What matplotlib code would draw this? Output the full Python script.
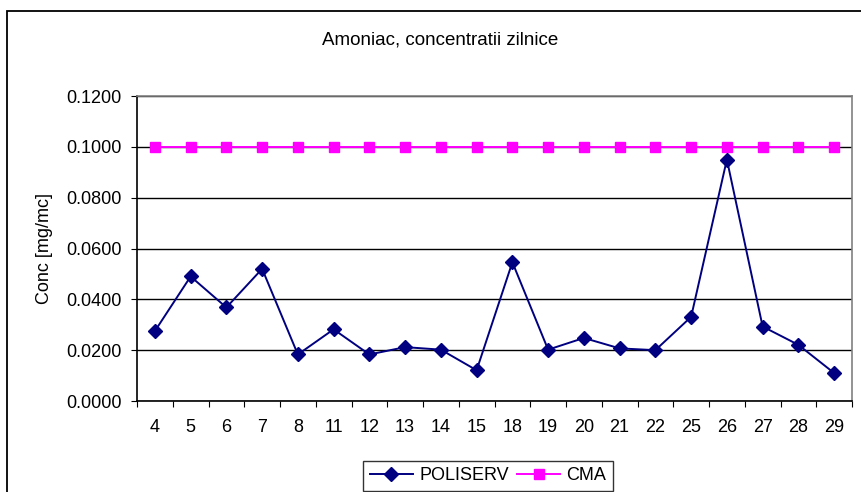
import matplotlib
matplotlib.use("Agg")
import matplotlib.pyplot as plt
from matplotlib.patches import Rectangle

plt.rcParams['font.family'] = ['Liberation Sans', 'DejaVu Sans']

# date (zilele lunii) si concentratii
zile = ['4', '5', '6', '7', '8', '11', '12', '13', '14', '15',
        '18', '19', '20', '21', '22', '25', '26', '27', '28', '29']
poliserv = [0.0275, 0.0490, 0.0368, 0.0520, 0.0183, 0.0282, 0.0183, 0.0212, 0.0202, 0.0121,
            0.0546, 0.0202, 0.0248, 0.0207, 0.0200, 0.0331, 0.0950, 0.0293, 0.0221, 0.0110]
cma = [0.1] * len(zile)
y_ticks = [0.0, 0.02, 0.04, 0.06, 0.08, 0.10, 0.12]

W, H = 861, 492
fig = plt.figure(figsize=(W / 100, H / 100), dpi=100)
ax = fig.add_axes([137 / W, 1 - 401 / H, (852 - 137) / W, (401 - 96) / H])

# chenarul exterior al graficului
fig.patches.append(Rectangle((7 / W, -0.1), 1.2, 1 - 11 / H + 0.1, transform=fig.transFigure,
                             fill=False, edgecolor='black', linewidth=1.3, clip_on=False))

x = list(range(len(zile)))
ax.plot(x, poliserv, color='#000080', marker='D', markersize=7, linewidth=1.4, label='POLISERV', zorder=4)
ax.plot(x, cma, color='#FF00FF', marker='s', markersize=7, linewidth=1.4, label='CMA', zorder=3)

ax.set_xlim(-0.5, len(zile) - 0.5)
ax.set_ylim(0, 0.12)
ax.set_yticks(y_ticks)
ax.set_yticklabels(['%.4f' % v for v in y_ticks])
ax.set_xticks([i - 0.5 for i in range(len(zile) + 1)])
ax.set_xticklabels([])
ax.set_xticks(x, minor=True)
ax.set_xticklabels(zile, minor=True)
ax.tick_params(axis='x', which='minor', length=0, pad=13, labelsize=13)
ax.tick_params(axis='x', which='major', direction='out', length=4, color='black')
ax.tick_params(axis='y', direction='out', length=4, labelsize=13, pad=7)

ax.grid(axis='y', color='black', linewidth=1.0)
ax.set_axisbelow(True)
for s in ['top', 'right']:
    ax.spines[s].set_color('#808080')
    ax.spines[s].set_linewidth(1.2)
for s in ['left', 'bottom']:
    ax.spines[s].set_color('black')
    ax.spines[s].set_linewidth(1.2)

ax.set_ylabel('Conc [mg/mc]', fontsize=13)
ax.yaxis.set_label_coords(-(137 - 53) / (852 - 137), 0.5)
fig.text(440 / W, 1 - 40 / H, 'Amoniac, concentratii zilnice', ha='center', va='center', fontsize=13.5)

leg = fig.legend(loc='upper center', bbox_to_anchor=(488 / W, 1 - 461 / H), ncol=2,
                 fontsize=13, frameon=True, fancybox=False, handlelength=2.4,
                 columnspacing=0.45, handletextpad=0.35, borderpad=0.35, borderaxespad=0)
leg.get_frame().set_edgecolor('black')
leg.get_frame().set_linewidth(1.0)

fig.savefig('out.png', dpi=100)
